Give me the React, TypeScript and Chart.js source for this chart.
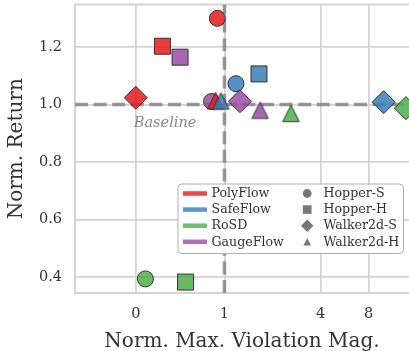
import React, { useEffect, useRef } from 'react';
import { Chart, registerables, Scale } from 'chart.js';

Chart.register(...registerables);

// ---- data ----
const environments = ['Hopper-S', 'Hopper-H', 'Walker2d-S', 'Walker2d-H'];
const methods = ['PolyFlow', 'SafeFlow', 'RoSD', 'GaugeFlow'];
const methodColors = ['228,26,28', '55,126,184', '77,175,74', '152,78,163'];

// normalized max violation magnitude per environment (Hopper-S, Hopper-H, Walker2d-S, Walker2d-H)
const polyFlowViolation = [0.92, 0.3, 0.0, 0.9];
const safeFlowViolation = [1.18, 1.645, 9.95, 0.96];
const rosdViolation = [0.108, 0.561, 13.7, 2.61];
const gaugeFlowViolation = [0.854, 0.499, 1.25, 1.67];

// normalized return per environment
const polyFlowReturn = [1.299, 1.202, 1.023, 1.013];
const safeFlowReturn = [1.072, 1.106, 1.008, 1.012];
const rosdReturn = [0.394, 0.383, 0.987, 0.969];
const gaugeFlowReturn = [1.01, 1.164, 1.011, 0.98];

const xTickValues = [0, 1, 4, 8];
const yTickValues = [0.4, 0.6, 0.8, 1.0, 1.2];
const baselineViolation = 1;
const baselineReturn = 1.0;

const violations = [polyFlowViolation, safeFlowViolation, rosdViolation, gaugeFlowViolation];
const returns = [polyFlowReturn, safeFlowReturn, rosdReturn, gaugeFlowReturn];

// ---- symlog scale (linthresh 1, linscale 0.5, base 10) ----
const LINSCALE = 0.5 / (1 - 1 / 10);
const fwd = (v: number) => (Math.abs(v) <= 1 ? v * LINSCALE : Math.sign(v) * (LINSCALE + Math.log10(Math.abs(v))));
const inv = (t: number) =>
  Math.abs(t) <= LINSCALE ? t / LINSCALE : Math.sign(t) * Math.pow(10, Math.abs(t) - LINSCALE);

class SymlogScale extends Scale {
  static id = 'symlog';
  static defaults = {};
  _s0 = 0;
  _sr = 1;
  parse(raw: any) {
    return typeof raw === 'number' ? raw : Number(raw);
  }
  determineDataLimits() {
    const { min, max } = (this as any).getMinMax(true);
    const o: any = this.options;
    (this as any).min = o.min ?? min;
    (this as any).max = o.max ?? max;
  }
  buildTicks() {
    return xTickValues.map((v) => ({ value: v }));
  }
  getLabelForValue(v: number) {
    return String(v);
  }
  configure() {
    super.configure();
    this._s0 = fwd((this as any).min);
    this._sr = fwd((this as any).max) - this._s0;
  }
  getPixelForValue(v: number) {
    return this.getPixelForDecimal((fwd(v) - this._s0) / this._sr);
  }
  getValueForPixel(p: number) {
    return inv(this._s0 + this.getDecimalForPixel(p) * this._sr);
  }
}
Chart.register(SymlogScale as any);

const FONT = "'DejaVu Serif', serif";
const GRID = '#d4d4d4';
const TEXT = '#333333';

function makeTriangle(rgb: string, size: number, fillAlpha: number, stroke: string | null) {
  const c = document.createElement('canvas');
  const s = Math.ceil(size + 4);
  c.width = s;
  c.height = s;
  const g = c.getContext('2d')!;
  const m = s / 2;
  const h = size / 2;
  g.beginPath();
  g.moveTo(m, m - h);
  g.lineTo(m - h, m + h);
  g.lineTo(m + h, m + h);
  g.closePath();
  g.fillStyle = `rgba(${rgb},${fillAlpha})`;
  g.fill();
  if (stroke) {
    g.strokeStyle = stroke;
    g.lineWidth = 1;
    g.stroke();
  }
  return c;
}

const zeroPad = (s: any) => {
  s.paddingTop = 0;
  s.paddingBottom = 0;
  s.paddingLeft = 0;
  s.paddingRight = 0;
};

const decorPlugin = {
  id: 'decor',
  beforeDatasetsDraw(chart: any) {
    const { ctx, chartArea: a, scales } = chart;
    const x = scales.x;
    const y = scales.y;
    ctx.save();
    ctx.strokeStyle = GRID;
    ctx.lineWidth = 2;
    ctx.beginPath();
    ctx.moveTo(a.right + 2, a.top);
    ctx.lineTo(a.left, a.top);
    ctx.lineTo(a.left, a.bottom);
    ctx.lineTo(a.right + 2, a.bottom);
    ctx.stroke();

    ctx.beginPath();
    ctx.rect(a.left, a.top, a.right - a.left, a.bottom - a.top);
    ctx.clip();
    ctx.setLineDash([13, 5.6]);
    ctx.lineWidth = 3.5;
    ctx.strokeStyle = 'rgba(128,128,128,0.8)';
    const py = y.getPixelForValue(baselineReturn);
    ctx.beginPath();
    ctx.moveTo(a.left, py);
    ctx.lineTo(a.right, py);
    ctx.stroke();
    const px = x.getPixelForValue(baselineViolation);
    ctx.beginPath();
    ctx.moveTo(px, a.bottom);
    ctx.lineTo(px, a.top);
    ctx.stroke();
    ctx.setLineDash([]);

    ctx.font = `italic 14.5px ${FONT}`;
    ctx.fillStyle = '#8a8a8a';
    ctx.textAlign = 'center';
    ctx.textBaseline = 'middle';
    ctx.fillText('Baseline', x.getPixelForValue(0.33), y.getPixelForValue(0.935));
    ctx.restore();
  },
  afterDraw(chart: any) {
    const { ctx, chartArea: a } = chart;
    const right = a.right - 6;
    const bottom = a.bottom - 40;
    const lw = 225.5;
    const lh = 69.5;
    const lx = right - lw;
    const ly = bottom - lh;
    ctx.save();
    ctx.beginPath();
    ctx.roundRect(lx + 0.5, ly + 0.5, lw, lh, 4);
    ctx.fillStyle = 'rgba(255,255,255,0.92)';
    ctx.fill();
    ctx.strokeStyle = '#b0b0b0';
    ctx.lineWidth = 1;
    ctx.stroke();

    ctx.font = `12.6px ${FONT}`;
    ctx.textBaseline = 'middle';
    ctx.textAlign = 'left';
    const gray = '#777777';
    for (let i = 0; i < 4; i++) {
      const yy = ly + 10 + i * 16.1;
      ctx.fillStyle = `rgba(${methodColors[i]},0.8)`;
      ctx.fillRect(lx + 5.5, yy - 2.25, 24, 4.5);
      ctx.fillStyle = TEXT;
      ctx.fillText(methods[i], lx + 34, yy + 0.5);

      const mx = lx + 129.7;
      ctx.fillStyle = gray;
      ctx.beginPath();
      if (i === 0) {
        ctx.arc(mx, yy, 4.4, 0, Math.PI * 2);
      } else if (i === 1) {
        ctx.rect(mx - 4.3, yy - 4.3, 8.6, 8.6);
      } else if (i === 2) {
        ctx.moveTo(mx - 6.2, yy);
        ctx.lineTo(mx, yy - 6.2);
        ctx.lineTo(mx + 6.2, yy);
        ctx.lineTo(mx, yy + 6.2);
        ctx.closePath();
      } else {
        ctx.moveTo(mx, yy - 3.8);
        ctx.lineTo(mx - 3.8, yy + 3.8);
        ctx.lineTo(mx + 3.8, yy + 3.8);
        ctx.closePath();
      }
      ctx.fill();
      ctx.fillStyle = TEXT;
      ctx.fillText(environments[i], lx + 146, yy + 0.5);
    }
    ctx.restore();
  },
};

export default function App() {
  const ref = useRef<HTMLCanvasElement | null>(null);
  useEffect(() => {
    if (!ref.current) return;
    const fillAlpha = 0.85;
    const edge = '#333333';
    const styles: any[] = ['circle', 'rect', 'rectRot', null];
    const radii = [8, 11.3, 11.5, 10];

    const datasets = environments.map((env, e) => {
      const style =
        styles[e] ?? methodColors.map((c) => makeTriangle(c, 16.5, fillAlpha, edge));
      return {
        label: env,
        order: environments.length - 1 - e,
        data: methods.map((_, m) => ({ x: violations[m][e], y: returns[m][e] })),
        pointStyle: style,
        pointRadius: radii[e],
        pointHoverRadius: radii[e],
        pointBackgroundColor: methodColors.map((c) => `rgba(${c},${fillAlpha})`),
        pointBorderColor: edge,
        pointBorderWidth: 1,
        showLine: false,
      };
    });

    const chart = new Chart(ref.current, {
      type: 'scatter',
      data: { datasets: datasets as any },
      options: {
        animation: false,
        responsive: false,
        events: [],
        layout: { autoPadding: false, padding: { top: 4.5, right: 0, left: 0, bottom: 0 } },
        plugins: { legend: { display: false }, tooltip: { enabled: false } },
        scales: {
          x: {
            type: 'symlog' as any,
            min: -0.686,
            max: 14.33,
            grid: { color: GRID, lineWidth: 1.8, drawTicks: false },
            border: { display: false },
            ticks: {
              color: TEXT,
              font: { family: FONT, size: 14.5 },
              padding: 13,
              callback: (v: any) => String(v),
            },
            title: {
              display: true,
              text: 'Norm. Max. Violation Mag.',
              color: TEXT,
              font: { family: FONT, size: 20 },
              padding: { top: 0, bottom: -2.5 },
            },
            afterFit: (s: any) => {
              s.height = 58;
              zeroPad(s);
            },
          } as any,
          y: {
            type: 'linear',
            min: 0.345,
            max: 1.347,
            afterBuildTicks: (s: any) => {
              s.ticks = yTickValues.map((v) => ({ value: v }));
            },
            grid: { color: GRID, lineWidth: 1.8, drawTicks: false },
            border: { display: false },
            ticks: {
              color: TEXT,
              font: { family: FONT, size: 14.5 },
              padding: 13,
              callback: (v: any) => Number(v).toFixed(1),
            },
            title: {
              display: true,
              text: 'Norm. Return',
              color: TEXT,
              font: { family: FONT, size: 20 },
              padding: { top: 5, bottom: 0 },
            },
            afterFit: (s: any) => {
              s.width = 75;
              zeroPad(s);
            },
          },
        },
      },
      plugins: [decorPlugin],
    });
    return () => chart.destroy();
  }, []);

  return (
    <div style={{ position: 'absolute', left: 0, top: 0, width: 409, height: 351, background: '#fff' }}>
      <canvas ref={ref} width={409} height={351} style={{ display: 'block' }} />
    </div>
  );
}
